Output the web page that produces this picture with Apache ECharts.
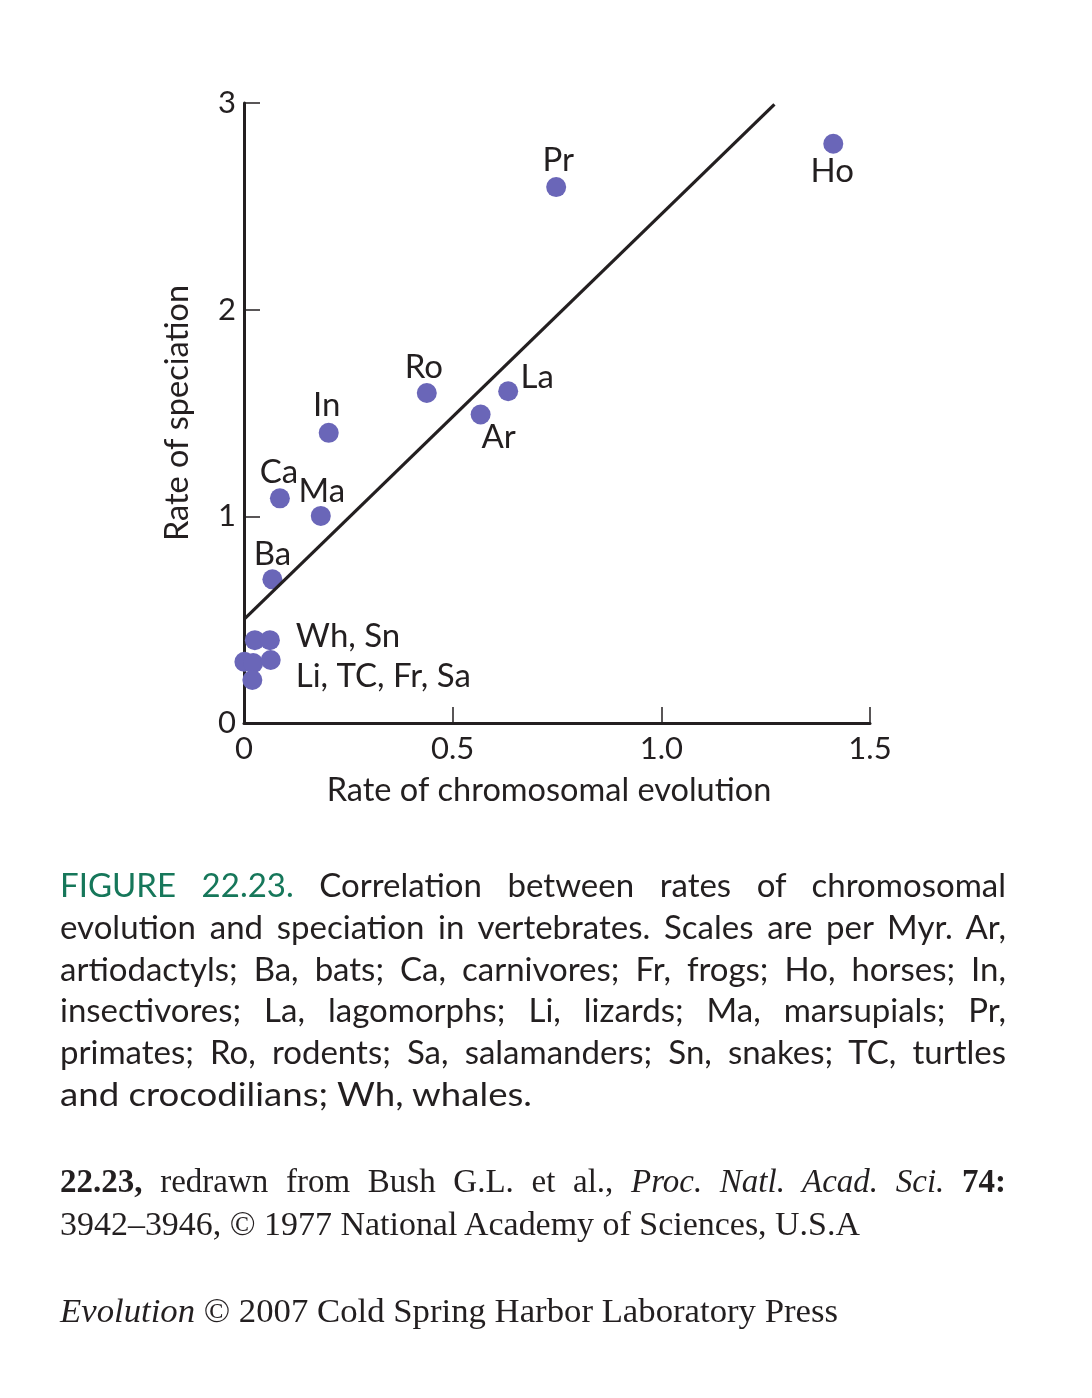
<!DOCTYPE html>
<html>
<head>
<meta charset="utf-8">
<script src="https://cdn.jsdelivr.net/npm/echarts@6/dist/echarts.min.js"></script>
<style>
  html, body { margin: 0; padding: 0; background: #fff; }
  #chart { position: absolute; left: 0; top: 0; width: 1092px; height: 1398px; }
  .ln { position: absolute; left: 60px; white-space: nowrap; height: 42px; line-height: 42px; color: #231f20; }
  .cap { font-family: Lato, "Open Sans", sans-serif; font-size: 33px; }
  .ser { font-family: "Liberation Serif", "DejaVu Serif", serif; font-size: 33px; }
  .grn { color: #16775a; }
</style>
</head>
<body>
<div id="chart"></div>

<div class="ln cap" style="top:863px" data-w="946"><span><span class="grn">FIGURE 22.23.</span> Correlation between rates of chromosomal</span></div>
<div class="ln cap" style="top:905px" data-w="946"><span>evolution and speciation in vertebrates. Scales are per Myr. Ar,</span></div>
<div class="ln cap" style="top:947px" data-w="946"><span>artiodactyls; Ba, bats; Ca, carnivores; Fr, frogs; Ho, horses; In,</span></div>
<div class="ln cap" style="top:988px" data-w="946"><span>insectivores; La, lagomorphs; Li, lizards; Ma, marsupials; Pr,</span></div>
<div class="ln cap" style="top:1030px" data-w="946"><span>primates; Ro, rodents; Sa, salamanders; Sn, snakes; TC, turtles</span></div>
<div class="ln cap" style="top:1072px" data-max="472"><span>and crocodilians; Wh, whales.</span></div>

<div class="ln ser" style="top:1160px" data-w="946"><span><b>22.23,</b> redrawn from Bush G.L. et al., <i>Proc. Natl. Acad. Sci.</i> <b>74:</b></span></div>
<div class="ln ser" style="top:1203px" data-max="800"><span>3942–3946, © 1977 National Academy of Sciences, U.S.A</span></div>
<div class="ln ser" style="top:1290px" data-max="778"><span><i>Evolution</i> © 2007 Cold Spring Harbor Laboratory Press</span></div>

<script>
// ---- data ----
const speciesCodes   = ['Pr', 'Ho', 'Ro', 'La', 'Ar', 'In', 'Ca', 'Ma', 'Ba', 'Wh', 'Sn', 'Li', 'TC', 'Fr', 'Sa'];
const chromosomalRate = [0.748, 1.412, 0.438, 0.633, 0.567, 0.203, 0.086, 0.184, 0.068, 0.026, 0.062, 0.001, 0.022, 0.064, 0.020];
const speciationRate  = [2.593, 2.803, 1.597, 1.605, 1.493, 1.404, 1.087, 1.002, 0.695, 0.401, 0.401, 0.296, 0.290, 0.305, 0.208];
const fitLineX = [0, 1.271];
const fitLineY = [0.501, 2.993];
const xTickLabels = ['0', '0.5', '1.0', '1.5'];
const yTickLabels = ['0', '1', '2', '3'];
const groupLabels = { Sn: 'Wh, Sn', Fr: 'Li, TC, Fr, Sa' };

// ---- label placement (layout only) ----
const labelPlace = {
  Pr: { offset: [2, -27], align: 'center' },
  Ho: { offset: [-1, 28], align: 'center' },
  Ro: { offset: [-3, -26], align: 'center' },
  La: { offset: [29, -14], align: 'center' },
  Ar: { offset: [18, 23], align: 'center' },
  In: { offset: [-2, -27], align: 'center' },
  Ca: { offset: [-1, -26], align: 'center' },
  Ma: { offset: [1, -25], align: 'center' },
  Ba: { offset: [0, -25], align: 'center' },
  Sn: { offset: [26, -4], align: 'left' },
  Fr: { offset: [25, 16], align: 'left' }
};

const FONT = 'Lato, "Open Sans", sans-serif';
const INK = '#231f20';

const scatterData = speciesCodes.map((code, i) => {
  const text = groupLabels[code] || (['Wh','Li','TC','Sa'].includes(code) ? '' : code);
  const p = labelPlace[code];
  const item = { name: code, value: [chromosomalRate[i], speciationRate[i]] };
  if (text && p) {
    item.label = {
      show: true, formatter: text, position: 'inside',
      offset: p.offset, align: p.align, verticalAlign: 'middle'
    };
  } else {
    item.label = { show: false };
  }
  return item;
});

const chart = echarts.init(document.getElementById('chart'), null, { renderer: 'canvas' });
chart.setOption({
  animation: false,
  backgroundColor: '#ffffff',
  grid: { left: 244, right: 222, top: 103, bottom: 675, containLabel: false },
  xAxis: {
    type: 'value', min: 0, max: 1.5, interval: 0.5,
    name: 'Rate of chromosomal evolution', nameLocation: 'middle', nameGap: 51,
    nameTextStyle: { fontFamily: FONT, fontSize: 32.5, color: INK, padding: [0, 16, 0, 0] },
    axisLine: { show: true, onZero: false, lineStyle: { color: INK, width: 3 } },
    axisTick: { show: true, inside: true, length: 16, lineStyle: { color: INK, width: 1.5 } },
    axisLabel: {
      margin: 10, fontFamily: FONT, fontSize: 31, color: INK,
      formatter: (v) => xTickLabels[Math.round(v / 0.5)]
    },
    splitLine: { show: false }
  },
  yAxis: {
    type: 'value', min: 0, max: 3, interval: 1,
    name: 'Rate of speciation', nameLocation: 'middle', nameGap: 50,
    nameTextStyle: { fontFamily: FONT, fontSize: 32.5, color: INK },
    axisLine: { show: true, onZero: false, lineStyle: { color: INK, width: 3 } },
    axisTick: { show: true, inside: true, length: 16, lineStyle: { color: INK, width: 1.5 } },
    axisLabel: {
      margin: 8, fontFamily: FONT, fontSize: 31, color: INK,
      formatter: (v) => yTickLabels[Math.round(v)]
    },
    splitLine: { show: false }
  },
  series: [
    {
      type: 'scatter', z: 2,
      symbol: 'circle', symbolSize: 20,
      itemStyle: { color: '#6a66b8', opacity: 1 },
      label: { fontFamily: FONT, fontSize: 33, color: INK },
      data: scatterData
    },
    {
      type: 'line', z: 3, showSymbol: false, symbol: 'none',
      lineStyle: { color: INK, width: 3.2 },
      data: fitLineX.map((x, i) => [x, fitLineY[i]])
    }
  ]
});

function fitLines() {
  document.querySelectorAll('.ln').forEach(el => {
    const s = el.firstElementChild;
    s.style.display = 'inline-block';
    s.style.transformOrigin = 'left center';
    const w = s.getBoundingClientRect().width;
    const target = el.dataset.w ? parseFloat(el.dataset.w) : null;
    const maxW = el.dataset.max ? parseFloat(el.dataset.max) : null;
    if (target) {
      const n = (s.textContent.match(/ /g) || []).length;
      if (w <= target && n > 0) {
        s.style.wordSpacing = ((target - w) / n) + 'px';
      } else if (w > target) {
        s.style.transform = 'scaleX(' + (target / w) + ')';
      }
    } else if (maxW) {
      s.style.transform = 'scaleX(' + (maxW / w) + ')';
    }
  });
}
if (document.fonts && document.fonts.ready) { document.fonts.ready.then(fitLines); } else { fitLines(); }
</script>
</body>
</html>
